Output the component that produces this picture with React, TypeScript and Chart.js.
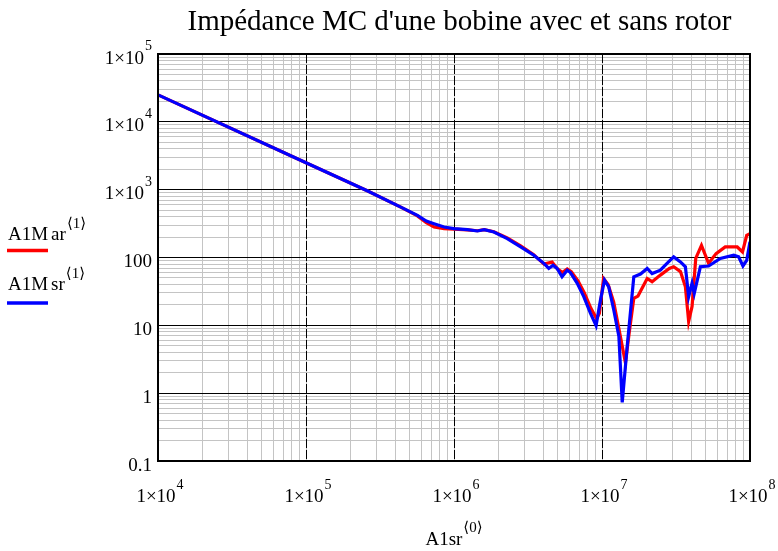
import React, { useEffect, useRef } from "react";
import { Chart, registerables } from "chart.js";

Chart.register(...registerables);

const chartTitle = "Impédance MC d'une bobine avec et sans rotor";
const xAxisName = "A1sr";
const xAxisSup = "⟨0⟩";
const seriesNames = ["A1M", "ar"];
const seriesNames2 = ["A1M", "sr"];
const seriesSup = "⟨1⟩";

// Red series: A1Mar<1>
const redFreq = [1e4, 1e5, 2.57e5, 4.37e5, 5.66e5, 6.5e5, 7.33e5, 8.57e5, 1e6, 1.23e6, 1.44e6, 1.6e6, 1.86e6, 2.29e6, 2.82e6, 3.46e6, 4.05e6, 4.6e6, 5.0e6, 5.4e6, 5.82e6, 6.2e6, 6.9e6, 7.6e6, 8.4e6, 9.2e6, 9.6e6, 1.024e7, 1.1e7, 1.2e7, 1.3e7, 1.44e7, 1.53e7, 1.64e7, 1.75e7, 2.02e7, 2.18e7, 2.48e7, 2.85e7, 3.05e7, 3.39e7, 3.66e7, 3.85e7, 4.06e7, 4.3e7, 4.7e7, 5.25e7, 5.9e7, 6.8e7, 8.2e7, 8.9e7, 9.5e7, 1e8];
const redZ = [25000, 2500, 970, 552, 410, 325, 282, 266, 262, 255, 248, 257, 240, 195, 148, 110, 80, 86, 68, 60, 68, 62, 45, 30, 18, 12.5, 15, 49, 40, 22, 9, 2.8, 8, 25, 27, 49, 44, 55, 69, 73, 62, 37, 11.4, 19, 97, 151, 82, 114, 143, 143, 121, 212, 224];

// Blue series: A1Msr<1>
const blueFreq = [1e4, 1e5, 2.57e5, 4.37e5, 5.66e5, 6.5e5, 7.33e5, 8.57e5, 1e6, 1.23e6, 1.44e6, 1.6e6, 1.86e6, 2.29e6, 2.82e6, 3.46e6, 4.05e6, 4.37e6, 4.67e6, 4.97e6, 5.37e6, 5.82e6, 6.12e6, 6.79e6, 7.53e6, 8.35e6, 9.12e6, 9.77e6, 1.04e7, 1.11e7, 1.2e7, 1.3e7, 1.37e7, 1.48e7, 1.64e7, 1.82e7, 2.02e7, 2.18e7, 2.48e7, 2.75e7, 3.05e7, 3.39e7, 3.66e7, 3.85e7, 4.06e7, 4.2e7, 4.62e7, 5.25e7, 6.3e7, 7.76e7, 8.38e7, 8.96e7, 9.5e7, 1e8];
const blueZ = [25000, 2500, 970, 552, 417, 344, 315, 281, 266, 257, 246, 257, 238, 190, 143, 108, 82, 69, 77, 69, 52, 65, 60, 42, 26.5, 15.1, 9.9, 23.7, 46.6, 37, 17, 6.9, 0.73, 4.9, 52, 57, 69, 58, 65, 82, 102, 86, 73, 26.5, 42, 29.7, 73, 75, 97, 108, 102, 75, 91, 170];

const xMajorTicks = [1e4, 1e5, 1e6, 1e7, 1e8];
const xTickBase = ["1×10", "1×10", "1×10", "1×10", "1×10"];
const xTickExp = ["4", "5", "6", "7", "8"];
const yMajorTicks = [0.1, 1, 10, 100, 1e3, 1e4, 1e5];
const yTickBase = ["0.1", "1", "10", "100", "1×10", "1×10", "1×10"];
const yTickExp = ["", "", "", "", "3", "4", "5"];

const SERIF = "'Liberation Serif', 'Times New Roman', 'DejaVu Serif', serif";
const GRID_GRAY = "#c4c4c4";

function withMinors(majors: number[]) {
  const out: { value: number; major: boolean }[] = [];
  for (let i = 0; i < majors.length; i++) {
    out.push({ value: majors[i], major: true });
    if (i < majors.length - 1) {
      for (let k = 2; k <= 9; k++) out.push({ value: majors[i] * k, major: false });
    }
  }
  return out;
}

function drawSup(ctx: CanvasRenderingContext2D, base: string, sup: string, x: number, y: number, align: "left" | "right" | "center", baseSize = 19, supSize = 14, rise = 13.5) {
  ctx.font = `${baseSize}px ${SERIF}`;
  const wb = ctx.measureText(base).width;
  ctx.font = `${supSize}px ${SERIF}`;
  const ws = sup ? ctx.measureText(sup).width + 1 : 0;
  const total = wb + ws;
  let start = x;
  if (align === "right") start = x - total;
  else if (align === "center") start = x - total / 2;
  ctx.textAlign = "left";
  ctx.textBaseline = "alphabetic";
  ctx.font = `${baseSize}px ${SERIF}`;
  ctx.fillText(base, start, y);
  if (sup) {
    ctx.font = `${supSize}px ${SERIF}`;
    ctx.fillText(sup, start + wb + 1, y - rise);
  }
}

const decorPlugin = {
  id: "decor",
  beforeDatasetsDraw(chart: any) {
    const { ctx, chartArea: a, scales } = chart;
    const x = scales.x;
    ctx.save();
    ctx.strokeStyle = "#000";
    ctx.lineWidth = 1;
    ctx.setLineDash([9, 2]);
    for (const v of xMajorTicks.slice(1, -1)) {
      const px = Math.round(x.getPixelForValue(v)) + 0.5;
      ctx.beginPath();
      ctx.moveTo(px, a.top);
      ctx.lineTo(px, a.bottom);
      ctx.stroke();
    }
    ctx.restore();
  },
  afterDraw(chart: any) {
    const { ctx, chartArea: a, scales } = chart;
    const x = scales.x;
    const y = scales.y;
    ctx.save();
    // frame
    ctx.strokeStyle = "#000";
    ctx.lineWidth = 2;
    ctx.setLineDash([]);
    ctx.strokeRect(a.left, a.top, a.right - a.left, a.bottom - a.top);

    ctx.fillStyle = "#000";
    // title
    ctx.font = `29px ${SERIF}`;
    ctx.textAlign = "center";
    ctx.textBaseline = "alphabetic";
    ctx.fillText(chartTitle, 459.5, 30);

    // y tick labels
    yMajorTicks.forEach((v, i) => {
      const py = y.getPixelForValue(v);
      drawSup(ctx, yTickBase[i], yTickExp[i], 152, py + 9.5, "right");
    });
    // x tick labels
    xMajorTicks.forEach((v, i) => {
      const px = x.getPixelForValue(v);
      drawSup(ctx, xTickBase[i], xTickExp[i], px + 2, 502, "center");
    });
    // x axis name
    drawSup(ctx, xAxisName, xAxisSup, (a.left + a.right) / 2, 545, "center", 19, 15, 13);

    // legend
    const legend = [
      { parts: seriesNames, color: "#ff0000", base: 240, line: 250.5 },
      { parts: seriesNames2, color: "#0000ff", base: 290, line: 303 },
    ];
    for (const item of legend) {
      ctx.fillStyle = "#000";
      ctx.font = `19px ${SERIF}`;
      ctx.textAlign = "left";
      const w1 = ctx.measureText(item.parts[0]).width;
      ctx.fillText(item.parts[0], 8, item.base);
      const x2 = 8 + w1 + 3;
      drawSup(ctx, item.parts[1], seriesSup, x2, item.base, "left", 19, 15, 12);
      ctx.strokeStyle = item.color;
      ctx.lineWidth = 3.5;
      ctx.beginPath();
      ctx.moveTo(7, item.line);
      ctx.lineTo(48, item.line);
      ctx.stroke();
    }
    ctx.restore();
  },
};

export default function App() {
  const ref = useRef<HTMLCanvasElement | null>(null);
  useEffect(() => {
    if (!ref.current) return;
    const chart = new Chart(ref.current, {
      type: "line",
      data: {
        datasets: [
          {
            label: "A1Msr⟨1⟩",
            data: blueFreq.map((f, i) => ({ x: f, y: blueZ[i] })),
            borderColor: "#0000ff",
            borderWidth: 3.2,
            pointRadius: 0,
            tension: 0,
            fill: false,
          },
          {
            label: "A1Mar⟨1⟩",
            data: redFreq.map((f, i) => ({ x: f, y: redZ[i] })),
            borderColor: "#ff0000",
            borderWidth: 3.2,
            pointRadius: 0,
            tension: 0,
            fill: false,
          },
        ],
      },
      options: {
        responsive: false,
        animation: false,
        events: [],
        layout: { padding: { left: 0, right: 28, top: 54, bottom: 0 } },
        plugins: {
          legend: { display: false },
          title: { display: false },
          tooltip: { enabled: false },
        },
        scales: {
          x: {
            type: "logarithmic",
            min: 1e4,
            max: 1e8,
            afterBuildTicks: (s: any) => {
              s.ticks = withMinors(xMajorTicks).map((t) => ({ value: t.value, major: t.major }));
            },
            afterFit: (s: any) => {
              s.height = 90;
            },
            ticks: { display: false },
            grid: { color: GRID_GRAY, lineWidth: 1, drawTicks: false },
            border: { display: true, color: "#000", width: 2 },
          },
          y: {
            type: "logarithmic",
            min: 0.1,
            max: 1e5,
            afterBuildTicks: (s: any) => {
              s.ticks = withMinors(yMajorTicks).map((t) => ({ value: t.value, major: t.major }));
            },
            afterFit: (s: any) => {
              s.width = 158;
            },
            ticks: { display: false },
            grid: {
              color: (c: any) => (c.tick && c.tick.major ? "#000" : GRID_GRAY),
              lineWidth: 1,
              drawTicks: false,
            },
            border: { display: true, color: "#000", width: 2 },
          },
        },
      },
      plugins: [decorPlugin],
    } as any);
    return () => chart.destroy();
  }, []);
  return (
    <div style={{ position: "absolute", left: 0, top: 0, width: 778, height: 551, background: "#fff" }}>
      <canvas ref={ref} width={778} height={551} style={{ display: "block" }} />
    </div>
  );
}
